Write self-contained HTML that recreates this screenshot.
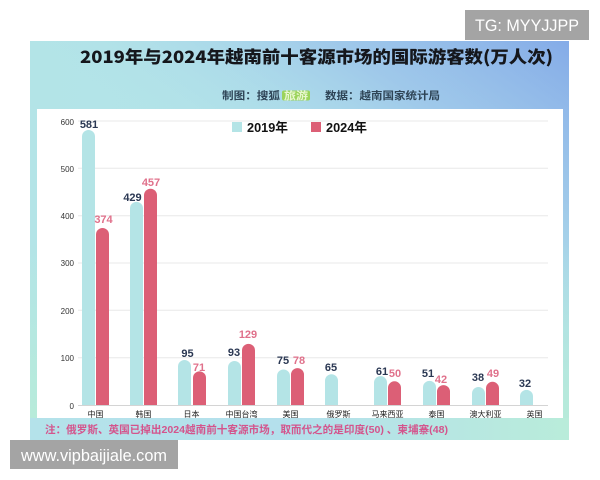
<!DOCTYPE html>
<html><head><meta charset="utf-8"><style>
html,body{margin:0;padding:0;background:#fff;width:600px;height:480px;overflow:hidden}
svg{display:block}
</style></head><body>
<svg width="600" height="480" viewBox="0 0 600 480" xmlns="http://www.w3.org/2000/svg">
<defs>
<linearGradient id="bgH" x1="0" y1="0" x2="1" y2="0">
<stop offset="0" stop-color="#b3e4e7"/>
<stop offset="0.6" stop-color="#b2e2ea"/>
<stop offset="1" stop-color="#b0dfe8"/>
</linearGradient>
<linearGradient id="blue" x1="1" y1="0" x2="0.55" y2="0.5">
<stop offset="0" stop-color="#84abe8" stop-opacity="1"/>
<stop offset="0.45" stop-color="#98bfea" stop-opacity="0.7"/>
<stop offset="1" stop-color="#b2e2ea" stop-opacity="0"/>
</linearGradient>
<linearGradient id="mint" x1="0" y1="0" x2="0" y2="1">
<stop offset="0" stop-color="#b6ecd9" stop-opacity="0"/>
<stop offset="0.5" stop-color="#b6ecd9" stop-opacity="0"/>
<stop offset="1" stop-color="#b8ecd8" stop-opacity="1"/>
</linearGradient>
<linearGradient id="foot" x1="0" y1="0" x2="1" y2="0">
<stop offset="0" stop-color="#b4e2ea"/>
<stop offset="0.5" stop-color="#b4e0ec"/>
<stop offset="1" stop-color="#b9ecda"/>
</linearGradient>
</defs>

<!-- panel -->
<rect x="30" y="41" width="539" height="399" fill="url(#bgH)"/>
<rect x="30" y="41" width="539" height="399" fill="url(#blue)"/>
<rect x="30" y="41" width="539" height="399" fill="url(#mint)"/>
<rect x="30" y="418" width="539" height="22" fill="url(#foot)"/>

<!-- title -->
<text x="80" y="63" font-family="'Noto Sans CJK SC','WenQuanYi Zen Hei',sans-serif" font-weight="900" font-size="17" fill="#15171c" textLength="473" lengthAdjust="spacingAndGlyphs">2019年与2024年越南前十客源市场的国际游客数(万人次)</text>

<!-- subtitle -->
<text x="222" y="99" font-family="'Noto Sans CJK SC',sans-serif" font-weight="700" font-size="10.5" fill="#2e4456" textLength="58" lengthAdjust="spacingAndGlyphs">制图：搜狐</text>
<rect x="282" y="90.5" width="28" height="10" rx="2" fill="#9bd35a"/>
<text x="284" y="99" font-family="'Noto Sans CJK SC',sans-serif" font-weight="700" font-size="10.5" fill="#e8f7d0" textLength="24" lengthAdjust="spacingAndGlyphs">旅游</text>
<text x="325" y="99" font-family="'Noto Sans CJK SC',sans-serif" font-weight="700" font-size="10.5" fill="#2e4456" textLength="115" lengthAdjust="spacingAndGlyphs">数据：越南国家统计局</text>

<!-- white chart area -->
<rect x="37" y="109" width="526" height="309" fill="#ffffff"/>

<!-- grid -->
<g stroke="#e8e8e8" stroke-width="1">
<line x1="78" y1="121" x2="548" y2="121"/>
<line x1="78" y1="168.3" x2="548" y2="168.3"/>
<line x1="78" y1="215.7" x2="548" y2="215.7"/>
<line x1="78" y1="263" x2="548" y2="263"/>
<line x1="78" y1="310.3" x2="548" y2="310.3"/>
<line x1="78" y1="357.7" x2="548" y2="357.7"/>
</g>
<line x1="78" y1="405.5" x2="548" y2="405.5" stroke="#d4d4d4" stroke-width="1"/>

<!-- y labels -->
<g font-family="'Liberation Sans',sans-serif" font-size="8" fill="#333" text-anchor="end">
<text x="74" y="125">600</text>
<text x="74" y="172">500</text>
<text x="74" y="219">400</text>
<text x="74" y="266">300</text>
<text x="74" y="314">200</text>
<text x="74" y="361">100</text>
<text x="74" y="409">0</text>
</g>

<!-- legend -->
<rect x="232" y="122" width="10" height="10" fill="#b4e4e6"/>
<text x="247" y="132" font-family="'Liberation Sans','Noto Sans CJK SC',sans-serif" font-weight="700" font-size="13" fill="#111" textLength="41" lengthAdjust="spacingAndGlyphs">2019年</text>
<rect x="311" y="122" width="10" height="10" fill="#dc5f76"/>
<text x="326" y="132" font-family="'Liberation Sans','Noto Sans CJK SC',sans-serif" font-weight="700" font-size="13" fill="#111" textLength="41" lengthAdjust="spacingAndGlyphs">2024年</text>

<!-- bars 2019 -->
<g fill="#b4e4e6">
<path d="M82,405V136.5A6.5,6.5 0 0 1 95,136.5V405Z"/>
<path d="M130,405V208.4A6.5,6.5 0 0 1 143,208.4V405Z"/>
<path d="M178,405V366.5A6.5,6.5 0 0 1 191,366.5V405Z"/>
<path d="M228,405V367.5A6.5,6.5 0 0 1 241,367.5V405Z"/>
<path d="M277,405V376A6.5,6.5 0 0 1 290,376V405Z"/>
<path d="M325,405V380.7A6.5,6.5 0 0 1 338,380.7V405Z"/>
<path d="M374,405V382.6A6.5,6.5 0 0 1 387,382.6V405Z"/>
<path d="M423,405V387.4A6.5,6.5 0 0 1 436,387.4V405Z"/>
<path d="M472,405V393.5A6.5,6.5 0 0 1 485,393.5V405Z"/>
<path d="M520,405V396.4A6.5,6.5 0 0 1 533,396.4V405Z"/>
</g>
<!-- bars 2024 -->
<g fill="#dc5f76">
<path d="M96,405V234.5A6.5,6.5 0 0 1 109,234.5V405Z"/>
<path d="M144,405V195.2A6.5,6.5 0 0 1 157,195.2V405Z"/>
<path d="M193,405V377.9A6.5,6.5 0 0 1 206,377.9V405Z"/>
<path d="M242,405V350.4A6.5,6.5 0 0 1 255,350.4V405Z"/>
<path d="M291,405V374.6A6.5,6.5 0 0 1 304,374.6V405Z"/>
<path d="M388,405V387.8A6.5,6.5 0 0 1 401,387.8V405Z"/>
<path d="M437,405V391.6A6.5,6.5 0 0 1 450,391.6V405Z"/>
<path d="M486,405V388.3A6.5,6.5 0 0 1 499,388.3V405Z"/>
</g>

<!-- value labels 2019 -->
<g font-family="'Liberation Sans',sans-serif" font-weight="700" font-size="11" fill="#2b3853" text-anchor="middle">
<text x="89" y="128">581</text>
<text x="132.5" y="201">429</text>
<text x="187.5" y="357">95</text>
<text x="234" y="356">93</text>
<text x="283" y="364">75</text>
<text x="331" y="371">65</text>
<text x="382" y="375">61</text>
<text x="428" y="377">51</text>
<text x="478" y="381">38</text>
<text x="525" y="387">32</text>
</g>
<!-- value labels 2024 -->
<g font-family="'Liberation Sans',sans-serif" font-weight="700" font-size="11" fill="#e0718b" text-anchor="middle">
<text x="103.5" y="223">374</text>
<text x="151" y="186">457</text>
<text x="199" y="371">71</text>
<text x="248" y="338">129</text>
<text x="299" y="364">78</text>
<text x="395" y="377">50</text>
<text x="441" y="383">42</text>
<text x="493" y="377">49</text>
</g>

<!-- category labels -->
<g font-family="'Noto Sans CJK SC',sans-serif" font-size="8" fill="#222" text-anchor="middle">
<text x="95.5" y="417">中国</text>
<text x="143.5" y="417">韩国</text>
<text x="191.5" y="417">日本</text>
<text x="241.5" y="417">中国台湾</text>
<text x="290.5" y="417">美国</text>
<text x="338.5" y="417">俄罗斯</text>
<text x="387.5" y="417">马来西亚</text>
<text x="436.5" y="417">泰国</text>
<text x="485.5" y="417">澳大利亚</text>
<text x="534.5" y="417">英国</text>
</g>

<!-- footnote -->
<text x="45" y="433" font-family="'Liberation Sans','Noto Sans CJK SC',sans-serif" font-weight="700" font-size="10.5" fill="#d4548c" textLength="403" lengthAdjust="spacingAndGlyphs">注：俄罗斯、英国已掉出2024越南前十客源市场，取而代之的是印度(50) 、柬埔寨(48)</text>

<!-- watermarks -->
<rect x="465" y="10" width="124" height="30" fill="#a4a4a4"/>
<text x="475" y="31" font-family="'Liberation Sans',sans-serif" font-size="16.5" fill="#ffffff" textLength="104" lengthAdjust="spacingAndGlyphs">TG: MYYJJPP</text>
<rect x="10" y="440" width="168" height="29" fill="#a4a4a4"/>
<text x="21" y="461" font-family="'Liberation Sans',sans-serif" font-size="16.5" fill="#ffffff" textLength="146" lengthAdjust="spacingAndGlyphs">www.vipbaijiale.com</text>
</svg>
</body></html>
